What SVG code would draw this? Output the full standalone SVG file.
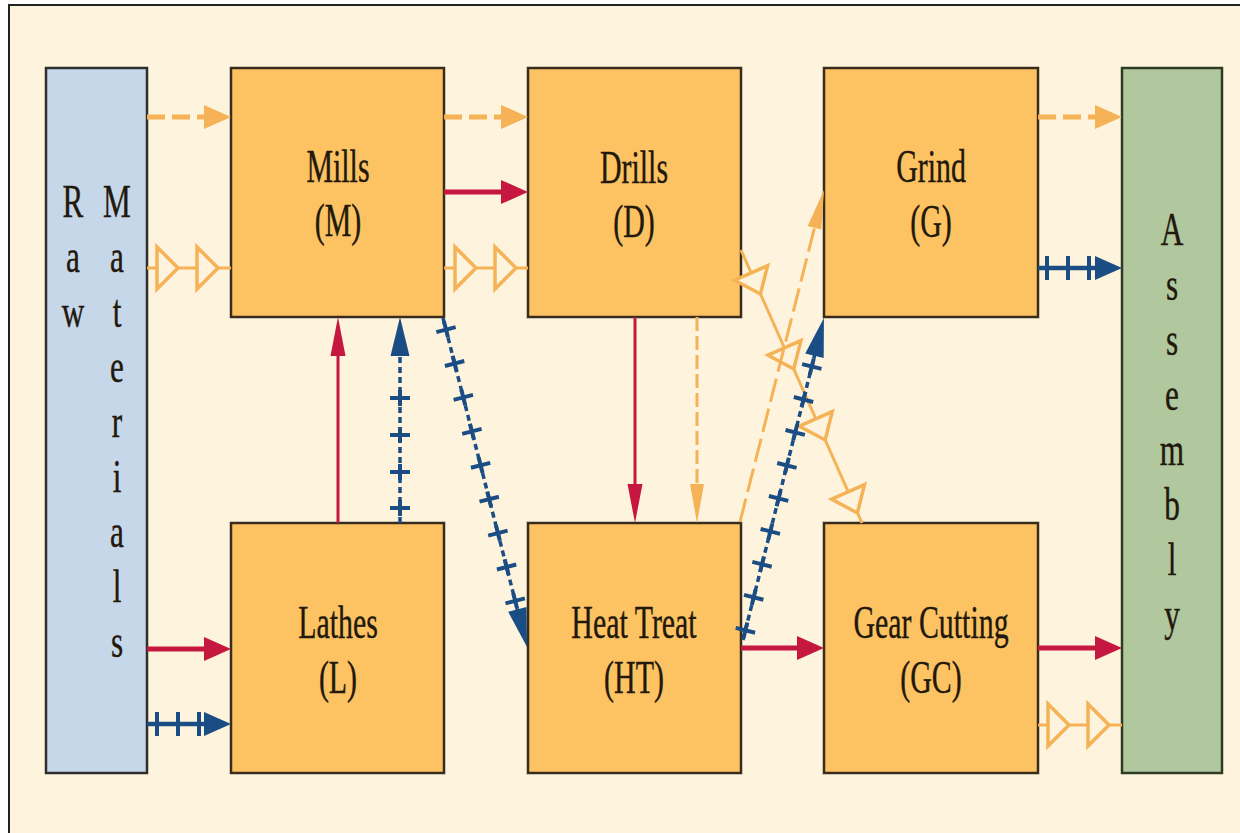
<svg xmlns="http://www.w3.org/2000/svg" xmlns:xlink="http://www.w3.org/1999/xlink" width="1240" height="833" viewBox="0 0 1240 833">
<style>
.box{fill:#FDC363;stroke:#3A2C1C;stroke-width:2.5}
.raw{fill:#C7D7EA;stroke:#2E2E2E;stroke-width:2.5}
.asm{fill:#B1C89E;stroke:#2E3A24;stroke-width:2.5}
.t{font-family:"Liberation Serif","Times New Roman",serif;font-size:46px;fill:#22180C;stroke:#22180C;stroke-width:0.4;text-anchor:middle}
.red{stroke:#C5173F;fill:none}
.org{stroke:#F5B257;fill:none}
.blu{stroke:#1B4D85;fill:none}
.tri{fill:#FEF4DD;stroke:#F5B257;stroke-width:3.5;stroke-linejoin:miter}
marker{overflow:visible}
</style>
<defs>
<marker id="hR" markerUnits="userSpaceOnUse" orient="auto" markerWidth="1" markerHeight="1" overflow="visible"><path d="M-3,-12 L24,0 L-3,12 Z" fill="#C5173F"/></marker>
<marker id="hO" markerUnits="userSpaceOnUse" orient="auto" markerWidth="1" markerHeight="1" overflow="visible"><path d="M-3,-12 L24,0 L-3,12 Z" fill="#F5B257"/></marker>
<marker id="hB" markerUnits="userSpaceOnUse" orient="auto" markerWidth="1" markerHeight="1" overflow="visible"><path d="M-3,-12 L24,0 L-3,12 Z" fill="#1B4D85"/></marker>
<marker id="hRt" markerUnits="userSpaceOnUse" orient="auto" markerWidth="1" markerHeight="1" overflow="visible"><path d="M-3,-7.5 L36,0 L-3,7.5 Z" fill="#C5173F"/></marker>
<marker id="hOt" markerUnits="userSpaceOnUse" orient="auto" markerWidth="1" markerHeight="1" overflow="visible"><path d="M-3,-7 L36,0 L-3,7 Z" fill="#F5B257"/></marker>
<marker id="hBt" markerUnits="userSpaceOnUse" orient="auto" markerWidth="1" markerHeight="1" overflow="visible"><path d="M-3,-9.5 L36,0 L-3,9.5 Z" fill="#1B4D85"/></marker>
<marker id="xB" markerUnits="userSpaceOnUse" orient="auto" markerWidth="1" markerHeight="1" overflow="visible"><path d="M0,-10 V10 M-8,0 H8" stroke="#1B4D85" stroke-width="4" fill="none"/></marker>
<marker id="xH" markerUnits="userSpaceOnUse" orient="auto" markerWidth="1" markerHeight="1" overflow="visible"><path d="M0,-12 V12 M-6,0 H6" stroke="#1B4D85" stroke-width="4" fill="none"/></marker>
<polygon id="triH" class="tri" points="0,-21 21,0 0,21"/>
<polygon id="triD" class="tri" points="-11,-18 12,0 -11,18"/>
</defs>

<rect x="0" y="0" width="1240" height="833" fill="#FFFFFF"/>
<rect id="frame" x="9" y="5" width="1245" height="840" fill="#FEF4DD" stroke="#222222" stroke-width="2"/>

<g id="raw-materials">
<rect class="raw" x="46" y="68" width="101" height="705"/>
<text class="t" transform="translate(73,0) scale(0.68,1)"><tspan x="0" y="217">R</tspan><tspan x="0" y="272">a</tspan><tspan x="0" y="327">w</tspan></text>
<text class="t" transform="translate(117,0) scale(0.68,1)"><tspan x="0" y="217">M</tspan><tspan x="0" y="272">a</tspan><tspan x="0" y="327">t</tspan><tspan x="0" y="382">e</tspan><tspan x="0" y="437">r</tspan><tspan x="0" y="492">i</tspan><tspan x="0" y="547">a</tspan><tspan x="0" y="602">l</tspan><tspan x="0" y="657">s</tspan></text>
</g>

<g id="mills">
<rect class="box" x="231" y="68" width="213" height="249"/>
<text class="t" transform="translate(338,182) scale(0.65,1)">Mills</text>
<text class="t" transform="translate(338,236) scale(0.65,1)">(M)</text>
</g>

<g id="drills">
<rect class="box" x="528" y="68" width="213" height="249"/>
<text class="t" transform="translate(634,183) scale(0.65,1)">Drills</text>
<text class="t" transform="translate(634,237) scale(0.65,1)">(D)</text>
</g>

<g id="grind">
<rect class="box" x="824" y="68" width="214" height="249"/>
<text class="t" transform="translate(931,182) scale(0.65,1)">Grind</text>
<text class="t" transform="translate(931,237) scale(0.65,1)">(G)</text>
</g>

<g id="lathes">
<rect class="box" x="231" y="523" width="213" height="250"/>
<text class="t" transform="translate(338,638) scale(0.65,1)">Lathes</text>
<text class="t" transform="translate(338,693) scale(0.65,1)">(L)</text>
</g>

<g id="heat-treat">
<rect class="box" x="528" y="523" width="213" height="250"/>
<text class="t" transform="translate(634,638) scale(0.65,1)">Heat Treat</text>
<text class="t" transform="translate(634,693) scale(0.65,1)">(HT)</text>
</g>

<g id="gear-cutting">
<rect class="box" x="824" y="523" width="214" height="250"/>
<text class="t" transform="translate(931,638) scale(0.65,1)">Gear Cutting</text>
<text class="t" transform="translate(931,693) scale(0.65,1)">(GC)</text>
</g>

<g id="assembly">
<rect class="asm" x="1122" y="68" width="100" height="705"/>
<text class="t" transform="translate(1172,0) scale(0.68,1)"><tspan x="0" y="245">A</tspan><tspan x="0" y="300">s</tspan><tspan x="0" y="355">s</tspan><tspan x="0" y="410">e</tspan><tspan x="0" y="465">m</tspan><tspan x="0" y="520">b</tspan><tspan x="0" y="575">l</tspan><tspan x="0" y="630">y</tspan></text>
</g>

<g id="connectors">
<path class="org" stroke-width="5" stroke-dasharray="18 7" d="M147,117 H207" marker-end="url(#hO)"/>
<path class="org" stroke-width="5" stroke-dasharray="18 7" d="M444,117 H504" marker-end="url(#hO)"/>
<path class="org" stroke-width="5" stroke-dasharray="18 7" d="M1038,117 H1098" marker-end="url(#hO)"/>

<path class="org" stroke-width="3" d="M147,268 H231"/>
<use xlink:href="#triH" x="157" y="268"/>
<use xlink:href="#triH" x="197" y="268"/>
<path class="org" stroke-width="3" d="M444,268 H528"/>
<use xlink:href="#triH" x="455" y="268"/>
<use xlink:href="#triH" x="495" y="268"/>
<path class="org" stroke-width="3" d="M1038,725 H1122"/>
<use xlink:href="#triH" x="1048" y="725"/>
<use xlink:href="#triH" x="1088" y="725"/>
<path class="org" stroke-width="3" d="M741,250 L862,523"/>
<use xlink:href="#triD" transform="translate(755.6,283) rotate(66.1)"/>
<use xlink:href="#triD" transform="translate(788.9,358) rotate(66.1)"/>
<use xlink:href="#triD" transform="translate(820.3,429) rotate(66.1)"/>
<use xlink:href="#triD" transform="translate(852.5,502) rotate(66.1)"/>

<path class="red" stroke-width="5" d="M444,192 H504" marker-end="url(#hR)"/>
<path class="red" stroke-width="5" d="M147,649 H207" marker-end="url(#hR)"/>
<path class="red" stroke-width="5" d="M741,648 H800" marker-end="url(#hR)"/>
<path class="red" stroke-width="5" d="M1038,648 H1098" marker-end="url(#hR)"/>
<path class="red" stroke-width="3" d="M338,523 V353" marker-end="url(#hRt)"/>
<path class="red" stroke-width="3" d="M635,317 V487" marker-end="url(#hRt)"/>

<path class="org" stroke-width="3" stroke-dasharray="14 5" d="M697,317 V487" marker-end="url(#hOt)"/>
<path class="org" stroke-width="3" stroke-dasharray="24 7" d="M740,522 L815.2,224.9" marker-end="url(#hOt)"/>

<path class="blu" stroke-width="4.5" d="M147,724 L157,724 L178,724 L199,724 L207,724" marker-mid="url(#xH)" marker-end="url(#hB)"/>
<path class="blu" stroke-width="4.5" d="M1038,268 L1047,268 L1068,268 L1089,268 L1098,268" marker-mid="url(#xH)" marker-end="url(#hB)"/>
<path class="blu" stroke-width="3.5" stroke-dasharray="6 4" d="M400,523 L400,508 L400,472 L400,435 L400,398 L400,353" marker-mid="url(#xB)" marker-end="url(#hBt)"/>
<path class="blu" stroke-width="3.5" stroke-dasharray="6 4" d="M443,318 L446.0,329.6 L454.6,363.5 L463.3,397.4 L471.9,431.4 L480.6,465.3 L489.2,499.2 L497.9,533.1 L506.6,567.0 L515.2,600.9 L518.1,612.2" marker-mid="url(#xB)" marker-end="url(#hBt)"/>
<path class="blu" stroke-width="3.5" stroke-dasharray="6 4" d="M743,640 L745.4,630.3 L753.7,597.3 L762.0,564.3 L770.3,531.4 L778.6,498.4 L786.9,465.4 L795.2,432.4 L803.5,399.5 L811.8,366.5 L815.2,352.9" marker-mid="url(#xB)" marker-end="url(#hBt)"/>
</g>
</svg>
